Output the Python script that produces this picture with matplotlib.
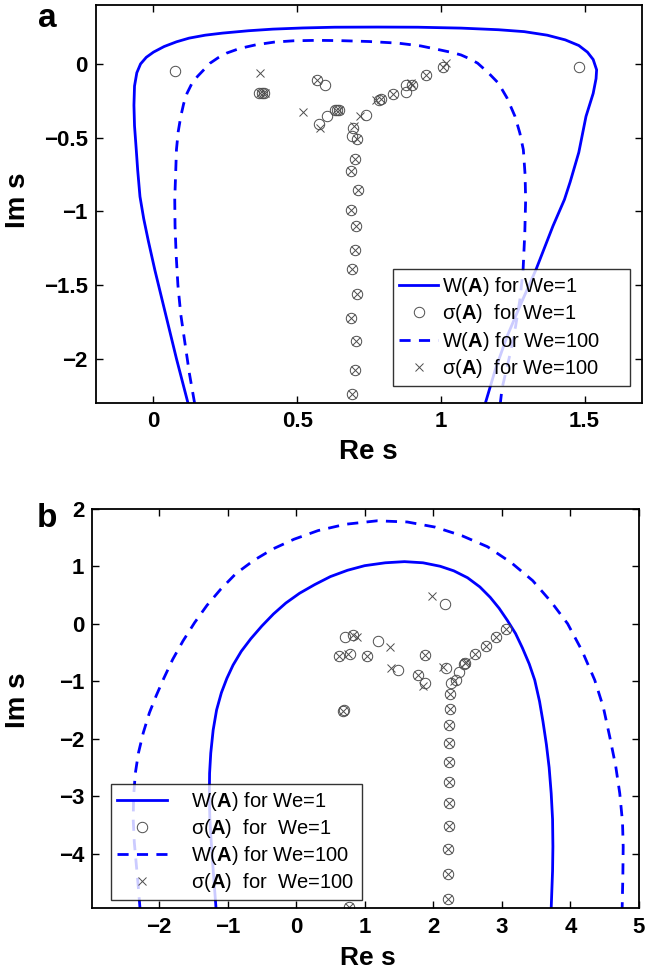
import numpy as np
import matplotlib
matplotlib.use("Agg")
import matplotlib.pyplot as plt

plt.rcParams['font.family'] = ['Liberation Sans', 'DejaVu Sans']
plt.rcParams['mathtext.fontset'] = 'custom'
plt.rcParams['mathtext.rm'] = 'Liberation Sans'
plt.rcParams['mathtext.bf'] = 'Liberation Sans:bold'

# ----------------------------
# Panel a data
# ----------------------------
a_w1_re = [0.12, 0.10, 0.08, 0.055, 0.03, 0.005, -0.018, -0.034, -0.047, -0.055, -0.06,
           -0.066, -0.068, -0.066, -0.058, -0.045, -0.025, 0.0, 0.037, 0.08, 0.124, 0.18,
           0.24, 0.33, 0.415, 0.52, 0.63, 0.78, 0.92, 1.07, 1.2, 1.29, 1.37, 1.433, 1.48,
           1.51, 1.53, 1.542, 1.54, 1.53, 1.505, 1.48, 1.45, 1.43, 1.39, 1.33, 1.28, 1.23,
           1.19, 1.155]
a_w1_im = [-2.3, -2.15, -2.0, -1.8, -1.6, -1.4, -1.2, -1.05, -0.9, -0.72, -0.58,
           -0.42, -0.28, -0.15, -0.06, 0.0, 0.045, 0.08, 0.118, 0.15, 0.175, 0.195,
           0.209, 0.225, 0.236, 0.244, 0.249, 0.25, 0.249, 0.243, 0.232, 0.219, 0.195, 0.163, 0.125,
           0.08, 0.03, -0.04, -0.1, -0.2, -0.356, -0.6, -0.8, -0.92, -1.1, -1.4, -1.62, -1.85,
           -2.07, -2.3]

a_w100_re = [0.143, 0.125, 0.11, 0.095, 0.085, 0.079, 0.075, 0.074, 0.077, 0.08, 0.086,
             0.095, 0.105, 0.117, 0.133, 0.153, 0.175, 0.197, 0.225, 0.254, 0.30, 0.357,
             0.42, 0.488, 0.57, 0.65, 0.75, 0.851, 0.93, 0.997, 1.04, 1.07, 1.10, 1.128,
             1.165, 1.20, 1.23, 1.258, 1.275, 1.287, 1.293, 1.295, 1.292, 1.286, 1.275,
             1.26, 1.243, 1.225, 1.213, 1.207]
a_w100_im = [-2.3, -2.1, -1.9, -1.7, -1.5, -1.3, -1.1, -0.92, -0.75, -0.58, -0.46,
             -0.356, -0.27, -0.198, -0.135, -0.085, -0.04, 0.005, 0.042, 0.073, 0.105, 0.13,
             0.148, 0.157, 0.16, 0.158, 0.152, 0.141, 0.122, 0.095, 0.077, 0.061, 0.035, 0.005,
             -0.06, -0.13, -0.23, -0.356, -0.47, -0.582, -0.75, -0.921, -1.15, -1.4, -1.6,
             -1.78, -1.95, -2.1, -2.2, -2.3]

a_col_re = [0.701, 0.688, 0.711, 0.688, 0.706, 0.700, 0.691, 0.708, 0.688, 0.703, 0.700, 0.691]
a_col_im = [-0.645, -0.728, -0.858, -0.988, -1.10, -1.265, -1.39, -1.558, -1.725, -1.878, -2.077, -2.24]

a_s1_re = [0.074, 0.368, 0.378, 0.386, 0.568, 0.597, 0.577, 0.605, 0.630, 0.638, 0.646,
           0.693, 0.690, 0.707, 0.739, 0.790, 0.785, 0.834, 0.878, 0.880, 0.898, 0.950,
           1.007, 1.481] + a_col_re
a_s1_im = [-0.051, -0.195, -0.200, -0.198, -0.108, -0.142, -0.408, -0.352, -0.311, -0.311, -0.311,
           -0.435, -0.487, -0.51, -0.345, -0.239, -0.245, -0.205, -0.191, -0.142, -0.142, -0.074,
           -0.022, -0.022] + a_col_im

a_s100_re = [0.372, 0.370, 0.380, 0.388, 0.568, 0.522, 0.581, 0.636, 0.645, 0.696, 0.707,
             0.718, 0.776, 0.792, 0.834, 0.895, 0.900, 0.950, 1.007, 1.019] + a_col_re
a_s100_im = [-0.062, -0.197, -0.2, -0.2, -0.108, -0.329, -0.435, -0.311, -0.315, -0.42, -0.51,
             -0.356, -0.243, -0.239, -0.205, -0.13, -0.142, -0.074, -0.022, 0.005] + a_col_im

# ----------------------------
# Panel b data
# ----------------------------
b_w1_re = [-1.168, -1.19, -1.215, -1.24, -1.258, -1.266, -1.262, -1.245, -1.21, -1.16, -1.09,
           -1.01, -0.92, -0.80, -0.66, -0.50, -0.33, -0.15, 0.05, 0.27, 0.50, 0.75, 1.0, 1.3,
           1.58, 1.85, 2.1, 2.3, 2.5, 2.68, 2.83, 2.96, 3.08, 3.2, 3.3, 3.4, 3.48, 3.55, 3.6,
           3.65, 3.69, 3.72, 3.74, 3.745, 3.74, 3.72]
b_w1_im = [-4.95, -4.6, -4.2, -3.76, -3.4, -3.0, -2.6, -2.25, -1.85, -1.5, -1.2,
           -0.95, -0.72, -0.48, -0.26, -0.04, 0.17, 0.36, 0.53, 0.68, 0.82, 0.93, 1.01, 1.06,
           1.08, 1.06, 1.0, 0.92, 0.8, 0.64, 0.46, 0.27, 0.06, -0.17, -0.42, -0.7, -0.98, -1.35,
           -1.7, -2.1, -2.5, -2.95, -3.4, -3.875, -4.3, -4.95]

b_w100_re = [-2.277, -2.30, -2.33, -2.36, -2.376, -2.37, -2.345, -2.30, -2.23, -2.14, -2.04,
             -1.93, -1.80, -1.65, -1.48, -1.30, -1.10, -0.88, -0.62, -0.34, -0.03, 0.32, 0.72,
             1.18, 1.62, 2.03, 2.42, 2.79, 3.14, 3.45, 3.72, 3.96, 4.17, 4.355, 4.48, 4.574,
             4.66, 4.72, 4.76, 4.77, 4.765, 4.755]
b_w100_im = [-4.95, -4.6, -4.2, -3.8, -3.4, -3.0, -2.6, -2.25, -1.9, -1.55, -1.25,
             -0.95, -0.62, -0.3, 0.02, 0.32, 0.6, 0.87, 1.1, 1.3, 1.47, 1.62, 1.73,
             1.79, 1.77, 1.68, 1.53, 1.34, 1.06, 0.75, 0.38, 0.0, -0.47, -0.98, -1.45, -1.967,
             -2.47, -2.95, -3.45, -3.875, -4.4, -4.95]

b_col_re = [2.248, 2.238, 2.235, 2.228, 2.228, 2.228, 2.223, 2.223, 2.219, 2.219, 2.219]
b_col_im = [-1.214, -1.48, -1.764, -2.075, -2.40, -2.75, -3.12, -3.51, -3.915, -4.35, -4.79]

b_s1_re = [0.715, 0.826, 1.19, 0.632, 0.793, 1.031, 1.484, 1.883, 1.776, 1.873, 2.18, 2.165,
           0.69, 0.70, 2.263, 2.326, 2.374, 2.45, 2.47, 2.603, 2.764, 2.92, 3.066,
           0.768] + b_col_re
b_s1_im = [-0.232, -0.203, -0.307, -0.561, -0.52, -0.567, -0.81, -0.538, -0.885, -1.03, -0.764, 0.347,
           -1.52, -1.50, -1.03, -0.972, -0.84, -0.70, -0.683, -0.533, -0.394, -0.232, -0.087,
           -4.92] + b_col_im

b_s100_re = [1.985, 0.83, 0.89, 1.376, 0.632, 0.76, 1.031, 1.386, 1.883, 1.776, 1.848, 2.14,
             0.69, 2.30, 2.46, 2.48, 2.603, 2.764, 2.92, 3.066, 0.768] + b_col_re
b_s100_im = [0.474, -0.2, -0.232, -0.405, -0.561, -0.52, -0.567, -0.764, -0.538, -0.885, -1.088, -0.745,
             -1.52, -0.99, -0.69, -0.67, -0.533, -0.394, -0.232, -0.087, -4.92] + b_col_im

blue = '#0000ff'
grey = '#4d4d4d'
dash = (0, (4, 3))

fig = plt.figure(figsize=(6.54, 9.72), dpi=100)
ax_a = fig.add_axes([0.1468, 0.5854, 0.8349, 0.4095])
ax_b = fig.add_axes([0.1414, 0.0655, 0.8356, 0.4111])


def style_axes(ax):
    ax.tick_params(direction='in', top=True, right=True, length=5, width=1, pad=6)
    for lab in ax.get_xticklabels() + ax.get_yticklabels():
        lab.set_fontsize(16)
        lab.set_fontweight('bold')
    for sp in ax.spines.values():
        sp.set_linewidth(1.3)


# ----------------------------
# Panel a
# ----------------------------
ax_a.plot(a_w1_re, a_w1_im, color=blue, lw=2.0, label='W($\\mathbf{A}$) for We=1')
ax_a.plot(a_s1_re, a_s1_im, 'o', mfc='none', mec=grey, ms=7.5, mew=0.7,
          label='σ($\\mathbf{A}$)  for We=1')
ax_a.plot(a_w100_re, a_w100_im, color=blue, lw=2.0, ls=dash,
          label='W($\\mathbf{A}$) for We=100')
ax_a.plot(a_s100_re, a_s100_im, 'x', color=grey, ms=6, mew=0.7,
          label='σ($\\mathbf{A}$)  for We=100')
ax_a.set_xlim(-0.2, 1.7)
ax_a.set_ylim(-2.3, 0.4)
ax_a.set_xticks([0, 0.5, 1, 1.5])
ax_a.set_xticklabels(['0', '0.5', '1', '1.5'])
ax_a.set_yticks([0, -0.5, -1, -1.5, -2])
ax_a.set_yticklabels(['0', '\u22120.5', '\u22121', '\u22121.5', '\u22122'])
style_axes(ax_a)
leg_a = ax_a.legend(loc='lower left', bbox_to_anchor=(0.544, 0.042, 0.434, 0.29),
                    mode='expand', fontsize=14.5, frameon=True, fancybox=False,
                    edgecolor='black', handlelength=1.95, handletextpad=0.17,
                    labelspacing=0.22, borderpad=0.3, borderaxespad=0)
leg_a.get_frame().set_linewidth(1.0)

# ----------------------------
# Panel b
# ----------------------------
ax_b.plot(b_w1_re, b_w1_im, color=blue, lw=2.0, label='W($\\mathbf{A}$) for We=1')
ax_b.plot(b_s1_re, b_s1_im, 'o', mfc='none', mec=grey, ms=7.5, mew=0.7,
          label='σ($\\mathbf{A}$)  for  We=1')
ax_b.plot(b_w100_re, b_w100_im, color=blue, lw=2.0, ls=dash,
          label='W($\\mathbf{A}$) for We=100')
ax_b.plot(b_s100_re, b_s100_im, 'x', color=grey, ms=6, mew=0.7,
          label='σ($\\mathbf{A}$)  for  We=100')
ax_b.set_xlim(-2.97, 5)
ax_b.set_ylim(-4.95, 2)
ax_b.set_xticks([-2, -1, 0, 1, 2, 3, 4, 5])
ax_b.set_xticklabels(['\u22122', '\u22121', '0', '1', '2', '3', '4', '5'])
ax_b.set_yticks([-4, -3, -2, -1, 0, 1, 2])
ax_b.set_yticklabels(['\u22124', '\u22123', '\u22122', '\u22121', '0', '1', '2'])
style_axes(ax_b)
leg_b = ax_b.legend(loc='lower left', bbox_to_anchor=(0.034, 0.021, 0.46, 0.283),
                    mode='expand', fontsize=14.5, frameon=True,
                    fancybox=False, edgecolor='black', handlelength=2.5,
                    handletextpad=1.15, labelspacing=0.2, borderpad=0.3, borderaxespad=0)
leg_b.get_frame().set_linewidth(1.0)

# ----------------------------
# Labels
# ----------------------------
fig.text(0.563, 0.535, 'Re s', ha='center', va='center', fontsize=20, fontweight='bold')
fig.text(0.028, 0.794, 'Im s', ha='center', va='center', rotation=90, fontsize=20, fontweight='bold')
fig.text(0.563, 0.014, 'Re s', ha='center', va='center', fontsize=19, fontweight='bold')
fig.text(0.028, 0.28, 'Im s', ha='center', va='center', rotation=90, fontsize=20, fontweight='bold')
fig.text(0.072, 0.981, 'a', ha='center', va='center', fontsize=24, fontweight='bold')
fig.text(0.072, 0.467, 'b', ha='center', va='center', fontsize=24, fontweight='bold')

fig.savefig('out.png', dpi=100)
